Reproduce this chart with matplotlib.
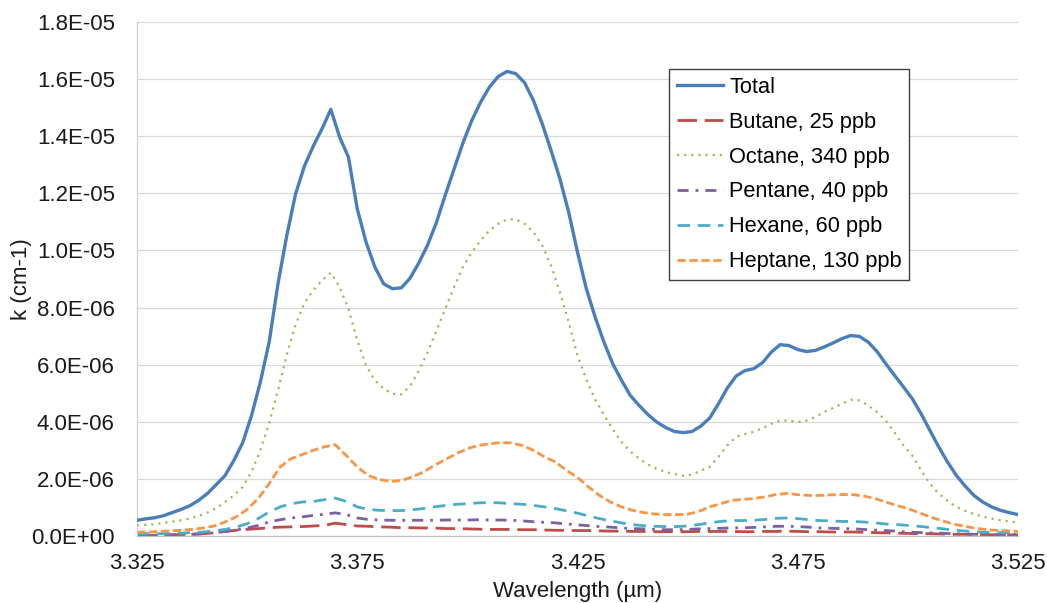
import numpy as np
import matplotlib
matplotlib.use("Agg")
import matplotlib.pyplot as plt

plt.rcParams['font.family'] = ['Liberation Sans', 'DejaVu Sans']

# Absorption coefficient k, in units of 1e-6 cm^-1
SCALE = 1e-6

# Fine grid for the two large series (µm)
wl_fine = np.round(3.325 + 0.002 * np.arange(101), 4)
# Coarser grid for the minor alkanes (µm)
wl_coarse = np.round(3.325 + 0.0025 * np.arange(81), 4)

total = [0.55, 0.60, 0.64, 0.71, 0.82, 0.93, 1.06, 1.25, 1.49, 1.80,
         2.12, 2.65, 3.27, 4.22, 5.39, 6.79, 8.83, 10.52, 11.98, 12.95,
         13.65, 14.26, 14.94, 13.97, 13.27, 11.46, 10.29, 9.42, 8.83, 8.66,
         8.69, 9.03, 9.57, 10.20, 10.99, 11.95, 12.86, 13.77, 14.55, 15.19,
         15.72, 16.09, 16.27, 16.19, 15.87, 15.25, 14.43, 13.50, 12.51, 11.34,
         9.94,
         8.66, 7.67, 6.79, 6.03, 5.45, 4.92, 4.57, 4.25, 3.99, 3.80,
         3.66, 3.62, 3.66, 3.85, 4.13, 4.63, 5.18, 5.60, 5.79, 5.86,
         6.07, 6.44, 6.70, 6.67, 6.53, 6.46, 6.50, 6.62, 6.76, 6.91,
         7.02, 6.99, 6.79, 6.46, 6.03, 5.62, 5.22, 4.81, 4.28, 3.70,
         3.12, 2.59, 2.12, 1.75, 1.42, 1.19, 1.02, 0.90, 0.82, 0.75]

octane = [0.37, 0.39, 0.41, 0.46, 0.50, 0.55, 0.61, 0.70, 0.82, 0.98,
          1.19, 1.42, 1.72, 2.25, 3.00, 3.95, 5.10, 6.35, 7.40, 8.15,
          8.60, 8.95, 9.22, 8.72, 7.96, 6.85, 5.97, 5.45, 5.16, 4.98,
          4.96, 5.25, 5.80, 6.44, 7.20, 7.96, 8.72, 9.42, 9.94, 10.35,
          10.70, 10.93, 11.09, 11.09, 10.93, 10.64, 10.17, 9.47, 8.54, 7.49,
          6.32,
          5.48, 4.78, 4.25, 3.73, 3.29, 2.96, 2.71, 2.50, 2.35, 2.24,
          2.17, 2.11, 2.15, 2.29, 2.42, 2.77, 3.17, 3.47, 3.57, 3.65,
          3.78, 3.93, 4.04, 4.04, 3.99, 4.04, 4.17, 4.34, 4.48, 4.63,
          4.77, 4.75, 4.57, 4.34, 4.04, 3.62, 3.17, 2.82, 2.30, 1.83,
          1.48, 1.23, 1.02, 0.88, 0.77, 0.68, 0.61, 0.56, 0.51, 0.47]

heptane = [0.14, 0.14, 0.16, 0.18, 0.20, 0.23, 0.28, 0.35, 0.49, 0.67,
           0.93, 1.31, 1.83, 2.42, 2.71, 2.85, 3.00, 3.12, 3.20, 2.82,
           2.42, 2.12, 1.98, 1.91, 1.94, 2.07, 2.24, 2.47, 2.68, 2.88,
           3.06, 3.17, 3.23, 3.27, 3.26, 3.17, 3.00, 2.77, 2.59, 2.30,
           2.05,
           1.72, 1.42, 1.19, 1.02, 0.90, 0.82, 0.77, 0.75, 0.75, 0.76,
           0.86, 1.02, 1.13, 1.25, 1.28, 1.31, 1.37, 1.45, 1.49, 1.45,
           1.42, 1.42, 1.44, 1.45, 1.45, 1.40, 1.31, 1.19, 1.07, 0.96,
           0.82, 0.67, 0.55, 0.43, 0.35, 0.28, 0.23, 0.20, 0.18, 0.16]

hexane = [0.08, 0.08, 0.08, 0.09, 0.10, 0.12, 0.14, 0.18, 0.23, 0.31,
          0.43, 0.61, 0.84, 1.02, 1.13, 1.19, 1.21, 1.27, 1.33, 1.21,
          1.02, 0.93, 0.90, 0.89, 0.89, 0.92, 0.96, 1.02, 1.07, 1.11,
          1.13, 1.16, 1.17, 1.16, 1.13, 1.11, 1.07, 1.02, 0.96, 0.88,
          0.80,
          0.70, 0.61, 0.53, 0.46, 0.40, 0.36, 0.34, 0.33, 0.33, 0.35,
          0.40, 0.46, 0.51, 0.54, 0.54, 0.55, 0.58, 0.62, 0.63, 0.61,
          0.57, 0.54, 0.53, 0.51, 0.51, 0.49, 0.46, 0.42, 0.40, 0.37,
          0.34, 0.30, 0.26, 0.21, 0.18, 0.15, 0.13, 0.12, 0.11, 0.09]

pentane = [0.02, 0.02, 0.03, 0.04, 0.05, 0.06, 0.08, 0.11, 0.16, 0.21,
           0.28, 0.37, 0.49, 0.57, 0.63, 0.67, 0.72, 0.76, 0.81, 0.75,
           0.63, 0.58, 0.56, 0.55, 0.55, 0.55, 0.55, 0.55, 0.56, 0.56,
           0.56, 0.57, 0.56, 0.56, 0.55, 0.53, 0.50, 0.48, 0.46, 0.42,
           0.39,
           0.36, 0.33, 0.31, 0.28, 0.26, 0.25, 0.23, 0.22, 0.22, 0.23,
           0.25, 0.26, 0.27, 0.28, 0.29, 0.30, 0.32, 0.34, 0.34, 0.33,
           0.31, 0.28, 0.27, 0.26, 0.25, 0.23, 0.21, 0.19, 0.17, 0.14,
           0.12, 0.11, 0.10, 0.08, 0.07, 0.06, 0.06, 0.05, 0.05, 0.05]

butane = [0.02, 0.02, 0.03, 0.04, 0.05, 0.06, 0.08, 0.11, 0.16, 0.20,
          0.23, 0.26, 0.29, 0.31, 0.32, 0.33, 0.35, 0.37, 0.45, 0.40,
          0.35, 0.34, 0.32, 0.31, 0.29, 0.29, 0.28, 0.28, 0.26, 0.26,
          0.25, 0.24, 0.23, 0.23, 0.23, 0.22, 0.22, 0.21, 0.20, 0.20,
          0.19,
          0.19, 0.18, 0.17, 0.17, 0.16, 0.16, 0.15, 0.15, 0.15, 0.15,
          0.16, 0.16, 0.16, 0.16, 0.15, 0.15, 0.16, 0.16, 0.17, 0.16,
          0.15, 0.15, 0.14, 0.14, 0.14, 0.13, 0.12, 0.11, 0.10, 0.09,
          0.08, 0.08, 0.07, 0.06, 0.06, 0.05, 0.05, 0.04, 0.04, 0.04]

labels = ["Total", "Butane, 25 ppb", "Octane, 340 ppb", "Pentane, 40 ppb",
          "Hexane, 60 ppb", "Heptane, 130 ppb"]
colors = ["#4A7EBB", "#BE4B48", "#9BBB59", "#7D60A0", "#4BACC6", "#F79646"]

x_ticks = [3.325, 3.375, 3.425, 3.475, 3.525]
y_ticks = [0, 2e-6, 4e-6, 6e-6, 8e-6, 1e-5, 1.2e-5, 1.4e-5, 1.6e-5, 1.8e-5]

fig = plt.figure(figsize=(10.47, 6.03), dpi=100)
ax = fig.add_axes([137 / 1047, 1 - 536 / 603, 881 / 1047, 514 / 603])

def arr(v):
    return np.asarray(v) * SCALE

ax.plot(wl_fine, arr(total), color=colors[0], lw=2.4, label=labels[0],
        solid_joinstyle='round', zorder=5)
l_but, = ax.plot(wl_coarse, arr(butane), color=colors[1], lw=2.0, label=labels[1])
l_but.set_dashes((7, 2.8))
l_oct, = ax.plot(wl_fine, arr(octane), color=colors[2], lw=1.6, label=labels[2])
l_oct.set_dashes((1, 2.2))
l_pen, = ax.plot(wl_coarse, arr(pentane), color=colors[3], lw=2.0, label=labels[3])
l_pen.set_dashes((4, 2.5, 1, 2.5))
l_hex, = ax.plot(wl_coarse, arr(hexane), color=colors[4], lw=2.0, label=labels[4])
l_hex.set_dashes((4.5, 2.8))
l_hep, = ax.plot(wl_coarse, arr(heptane), color=colors[5], lw=2.0, label=labels[5])
l_hep.set_dashes((3, 1.3))

ax.set_xlim(3.325, 3.525)
ax.set_ylim(0, 1.8e-5)
ax.set_xticks(x_ticks)
ax.set_xticklabels([f"{t:.3f}" for t in x_ticks])
ax.set_yticks(y_ticks)
ax.set_yticklabels([f"{t:.1E}" for t in y_ticks])
ax.tick_params(axis='both', length=0, labelsize=16, colors='#1a1a1a')
ax.tick_params(axis='y', pad=16)
ax.tick_params(axis='x', pad=12)

ax.grid(axis='y', color='#D9D9D9', lw=0.9)
ax.set_axisbelow(True)
for side in ('top', 'right'):
    ax.spines[side].set_visible(False)
ax.spines['left'].set_color('#D0D0D0')
ax.spines['bottom'].set_color('#BFBFBF')
ax.spines['left'].set_linewidth(0.9)
ax.spines['bottom'].set_linewidth(0.9)

ax.set_xlabel("Wavelength (µm)", fontsize=16, color='#1a1a1a')
ax.xaxis.set_label_coords(0.5, -0.087)
ax.set_ylabel("k (cm-1)", fontsize=16, color='#1a1a1a')
ax.yaxis.set_label_coords(-0.119, 0.5)

leg = ax.legend(loc='upper left', bbox_to_anchor=(0.604, 0.9086), fontsize=15.7,
                frameon=True, fancybox=False, borderaxespad=0, borderpad=0.35,
                labelspacing=0.64, handlelength=2.1, handletextpad=0.3)
leg.get_frame().set_edgecolor('#404040')
leg.get_frame().set_linewidth(1.0)
leg.get_frame().set_alpha(1)

fig.savefig("out.png", dpi=100, facecolor='white')
